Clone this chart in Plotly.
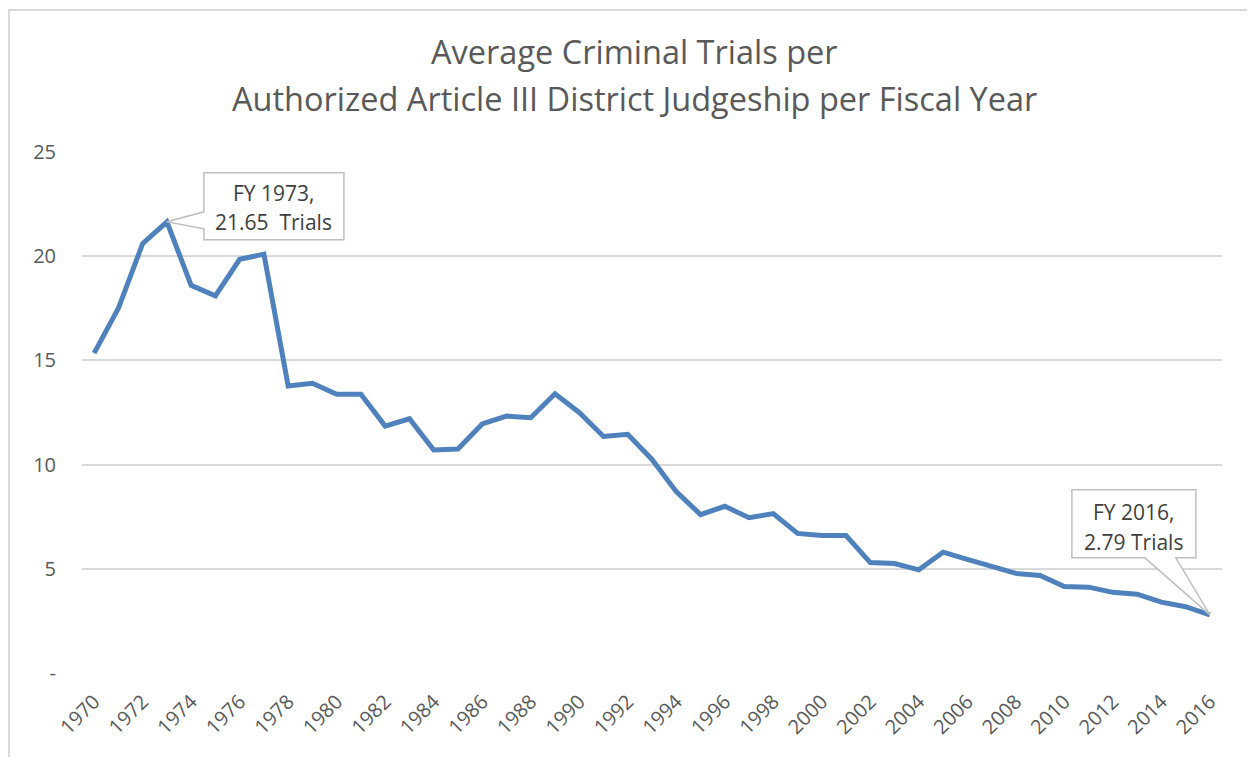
import plotly.graph_objects as go

years = list(range(1970, 2017))
trials = [15.35, 17.5, 20.6, 21.65, 18.6, 18.1, 19.85, 20.1, 13.77, 13.9,
          13.38, 13.38, 11.85, 12.2, 10.7, 10.75, 11.95, 12.33, 12.25, 13.4,
          12.5, 11.35, 11.45, 10.25, 8.7, 7.6, 8.0, 7.45, 7.65, 6.7,
          6.6, 6.6, 5.3, 5.25, 4.95, 5.8, 5.45, 5.1, 4.78, 4.68,
          4.15, 4.12, 3.87, 3.78, 3.4, 3.18, 2.79]
x_ticks = list(range(1970, 2017, 2))
y_ticks = [0, 5, 10, 15, 20, 25]
y_tick_labels = ["-", "5", "10", "15", "20", "25"]
title_lines = ["Average Criminal Trials per",
               "Authorized Article III District Judgeship per Fiscal Year"]
callout_years = [1973, 2016]

FONT = "Open Sans"
GREY_TXT = "#595959"

fig = go.Figure()
fig.add_trace(go.Scatter(x=years, y=trials, mode="lines",
                         line=dict(color="#4F81BD", width=5), hoverinfo="x+y"))

# callout shapes (pixel offsets relative to data point)
callout_paths = {
    1973: "M0,0 L37,10 L37,49 L177,49 L177,-18 L37,-18 L37,-7 Z",
    2016: "M0,0 L-34,57 L-14,57 L-14,125 L-138,125 L-138,57 L-65,57 Z",
}
text_offsets = {1973: (107, 29, 0), 2016: (-76, 103, 73)}
annotations = []
shapes = []
for yr in callout_years:
    val = trials[years.index(yr)]
    shapes.append(dict(type="path", xref="x", yref="y", xsizemode="pixel",
                       ysizemode="pixel", xanchor=yr, yanchor=val,
                       path=callout_paths[yr], fillcolor="white",
                       line=dict(color="#BFBFBF", width=1.5), layer="above"))
    dx, dy1, dy2 = text_offsets[yr]
    sep = "\u00a0\u00a0" if yr == 1973 else " "
    for txt, dy in ((f"FY {yr},", dy1), (f"{val:.2f}{sep}Trials", dy2)):
        annotations.append(dict(x=yr, y=val, xref="x", yref="y", text=txt,
                                showarrow=False, xshift=dx, yshift=dy,
                                xanchor="center", yanchor="middle",
                                font=dict(family=FONT, size=21, color="#404040")))

# title lines
for txt, ypos in zip(title_lines, [1.192, 1.1036]):
    annotations.append(dict(x=0.4845, y=ypos, xref="paper", yref="paper", text=txt,
                            showarrow=False, xanchor="center", yanchor="middle",
                            font=dict(family=FONT, size=32.5, color=GREY_TXT)))

# chart-area border
shapes.append(dict(type="rect", xref="paper", yref="paper", x0=-0.064, x1=1.05,
                   y0=-0.2, y1=1.2726, line=dict(color="#D9D9D9", width=2),
                   layer="below"))

fig.update_layout(
    width=1247, height=749,
    margin=dict(l=74, r=33, t=144, b=84),
    paper_bgcolor="white", plot_bgcolor="white",
    showlegend=False,
    annotations=annotations, shapes=shapes,
    font=dict(family=FONT, color=GREY_TXT),
    xaxis=dict(range=[1969.5, 2016.5], tickmode="array", tickvals=x_ticks,
               ticktext=[str(v) for v in x_ticks], tickangle=-45,
               showgrid=False, zeroline=False, showline=False, ticks="",
               ticklabelstandoff=12,
               tickfont=dict(family=FONT, size=20, color=GREY_TXT)),
    yaxis=dict(range=[0, 25], tickmode="array", tickvals=y_ticks,
               ticktext=y_tick_labels, showgrid=True, gridcolor="#D9D9D9",
               gridwidth=1.5, zeroline=False, showline=False, ticks="",
               ticklabelstandoff=25,
               tickfont=dict(family=FONT, size=20, color=GREY_TXT)),
)

fig.write_html("out.html")
